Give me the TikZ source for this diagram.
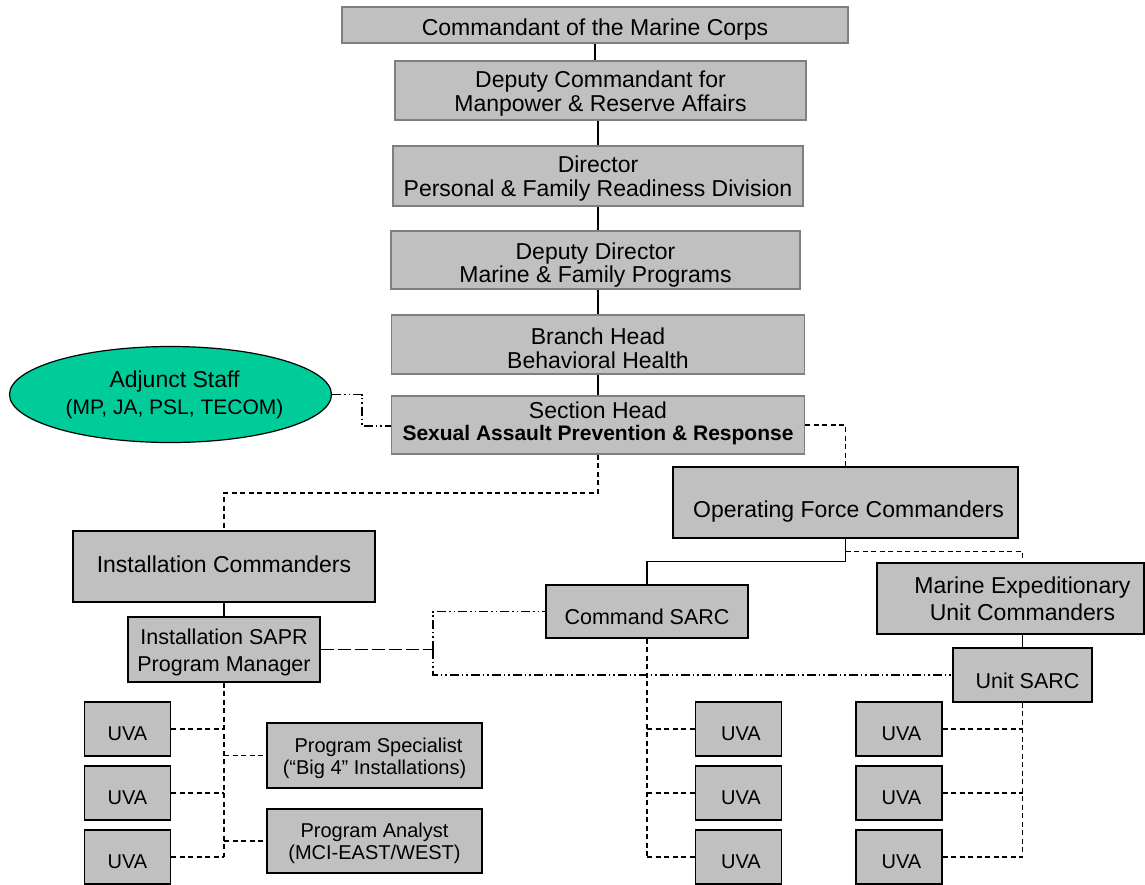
\documentclass[tikz,border=0pt]{standalone}
\usepackage{fontspec}
\setmainfont{Liberation Sans}
\usetikzlibrary{shapes.geometric,calc}
\definecolor{boxgray}{HTML}{C0C0C0}
\definecolor{edgegray}{HTML}{7F7F7F}
\definecolor{adjgreen}{HTML}{00CC99}
\newcommand\fMain{\fontsize{23}{23.5}\selectfont}
\newcommand\fMid{\fontsize{21.5}{26.5}\selectfont}
\newcommand\fSmall{\fontsize{20}{22}\selectfont}
% text lines, centred, shifted down by #1 without changing the box size
\newcommand\tl[2]{\raisebox{-#1}[\height][\depth]{\vbox{\halign{\hfil##\hfil\cr#2\crcr}}}}
\begin{document}
\begin{tikzpicture}[x=1pt,y=-1pt,
  box/.style={draw=black, fill=boxgray, line width=1.2pt, rectangle, inner sep=0pt},
  topbox/.style={box, draw=edgegray},
  uva/.style={box, minimum width=86pt, minimum height=54pt, font=\fSmall},
  link/.style={line width=1.6pt},
  dlink/.style={line width=1.3pt, dash pattern=on 5pt off 3.5pt},
  ddlink/.style={line width=1.3pt, dash pattern=on 9pt off 3pt on 1.5pt off 3pt on 1.5pt off 3pt},
  llink/.style={line width=1.3pt, dash pattern=on 13pt off 4pt},
]
\fill[white] (0,0) rectangle (1145,884);
\useasboundingbox (0,0) rectangle (1145,884);

% top chain
\node[topbox, minimum width=506pt, minimum height=36pt, font=\fMain] (cmc) at (595,25) {\tl{5pt}{Commandant of the Marine Corps}};
\node[topbox, minimum width=411pt, minimum height=59pt, font=\fMain] (dc) at (600.5,90.5) {\tl{3pt}{Deputy Commandant for\cr Manpower \& Reserve Affairs}};
\node[topbox, minimum width=410pt, minimum height=60pt, font=\fMain] (dir) at (598,176) {\tl{2.5pt}{Director\cr Personal \& Family Readiness Division}};
\node[topbox, minimum width=409pt, minimum height=58pt, font=\fMain] (dd) at (595.5,260) {\tl{5pt}{Deputy Director\cr Marine \& Family Programs}};
\node[topbox, minimum width=413pt, minimum height=59pt, font=\fMain] (bh) at (598,344.5) {\tl{4pt}{Branch Head\cr Behavioral Health}};
\node[topbox, minimum width=413pt, minimum height=58pt, font=\fontsize{23}{22}\selectfont] (sec) at (598,425) {\tl{-2pt}{Section Head\cr {\fontsize{21}{22}\selectfont\bfseries Sexual Assault Prevention \& Response}}};

% adjunct
\node[ellipse, draw=black, fill=adjgreen, line width=1.2pt, minimum width=322pt, minimum height=96pt, inner sep=0pt, font=\fontsize{23}{27}\selectfont] (adj) at (170.5,394.5) {\tl{0pt}{\hspace*{8pt}Adjunct Staff\cr \hspace*{8pt}{\fontsize{21}{27}\selectfont (MP, JA, PSL, TECOM)}}};

% left branch
\node[box, minimum width=302pt, minimum height=71pt, font=\fMain] (inst) at (224,566.5) {\tl{-2pt}{Installation Commanders}};
\node[box, minimum width=192pt, minimum height=65pt, font=\fMid] (sapr) at (224,649.5) {\tl{3pt}{Installation SAPR\cr Program Manager}};
\node[uva] (ul1) at (127.5,729) {\tl{5pt}{UVA}};
\node[uva] (ul2) at (127.5,793) {\tl{5pt}{UVA}};
\node[uva] (ul3) at (127.5,857) {\tl{5pt}{UVA}};
\node[box, minimum width=215pt, minimum height=65pt, font=\fSmall] (ps) at (374.5,755.5) {\tl{2.5pt}{\hspace*{8pt}Program Specialist\cr (``Big 4'' Installations)}};
\node[box, minimum width=215pt, minimum height=64pt, font=\fSmall] (pa) at (374.5,841) {\tl{2pt}{Program Analyst\cr (MCI-EAST/WEST)}};

% right branch
\node[box, minimum width=345pt, minimum height=71pt, font=\fMain] (of) at (845.5,502.5) {\tl{9pt}{\hspace*{6pt}Operating Force Commanders}};
\node[box, minimum width=202pt, minimum height=53pt, font=\fMid] (cs) at (647,611.5) {\tl{5pt}{Command SARC}};
\node[box, minimum width=267pt, minimum height=71pt, font=\fontsize{23}{26.7}\selectfont] (meu) at (1010.5,598.5) {\tl{0pt}{\hspace*{24pt}Marine Expeditionary\cr \hspace*{24pt}Unit Commanders}};
\node[box, minimum width=139pt, minimum height=54pt, font=\fMid] (us) at (1022.5,675) {\tl{6pt}{\hspace*{10pt}Unit SARC}};
\node[uva] (um1) at (738.5,729) {\tl{5pt}{\hspace*{5pt}UVA}};
\node[uva] (um2) at (738.5,793) {\tl{5pt}{\hspace*{5pt}UVA}};
\node[uva] (um3) at (738.5,857) {\tl{5pt}{\hspace*{5pt}UVA}};
\node[uva] (ur1) at (899,729) {\tl{5pt}{\hspace*{5pt}UVA}};
\node[uva] (ur2) at (899,793) {\tl{5pt}{\hspace*{5pt}UVA}};
\node[uva] (ur3) at (899,857) {\tl{5pt}{\hspace*{5pt}UVA}};

% solid chain
\draw[link] (cmc.south) -- (cmc.south |- dc.north);
\draw[link] (dc.south -| dir.north) -- (dir.north);
\draw[link] (dir.south) -- (dir.south |- dd.north);
\draw[link] (bh.north |- dd.south) -- (bh.north);
\draw[link] (bh.south) -- (bh.south |- sec.north);

% adjunct link
\coordinate (j1) at (362,426);
\draw[ddlink] (adj.east) -| (j1) -- (j1 -| sec.west);

% section to installation / operating force
\coordinate (j2) at (598,493);
\draw[dlink] (sec.south) |- (inst.north |- j2) -- (inst.north);
\draw[dlink] (sec.east) -| (of.north);

% operating force
\draw[link] (of.south) -- ++(0,23) -| (cs.north);
\draw[dlink] ($(of.south)+(0,13)$) -| (us.north |- meu.north);
\draw[link] (us.north |- meu.south) -- (us.north);

% installation
\draw[link] (inst.south) -- (sapr.north);
\coordinate (j3) at (433,649.5);
\draw[llink] (sapr.east) -- (j3);
\draw[ddlink] (j3) |- (cs.west);
\draw[ddlink] (j3) |- (us.west);

% left UVA tree
\draw[dlink] (sapr.south) -- (sapr.south |- ul3.east);
\foreach \n in {ul1,ul2,ul3} \draw[dlink] (\n.east) -- (sapr.south |- \n.east);
\draw[dlink] (sapr.south |- ps.west) -- (ps.west);
\draw[dlink] (sapr.south |- pa.west) -- (pa.west);

% command SARC tree
\draw[dlink] (cs.south) -- (cs.south |- um3.west);
\foreach \n in {um1,um2,um3} \draw[dlink] (cs.south |- \n.west) -- (\n.west);

% unit SARC tree
\draw[dlink] (us.south) -- (us.south |- ur3.east);
\foreach \n in {ur1,ur2,ur3} \draw[dlink] (\n.east) -- (us.south |- \n.east);
\end{tikzpicture}
\end{document}
